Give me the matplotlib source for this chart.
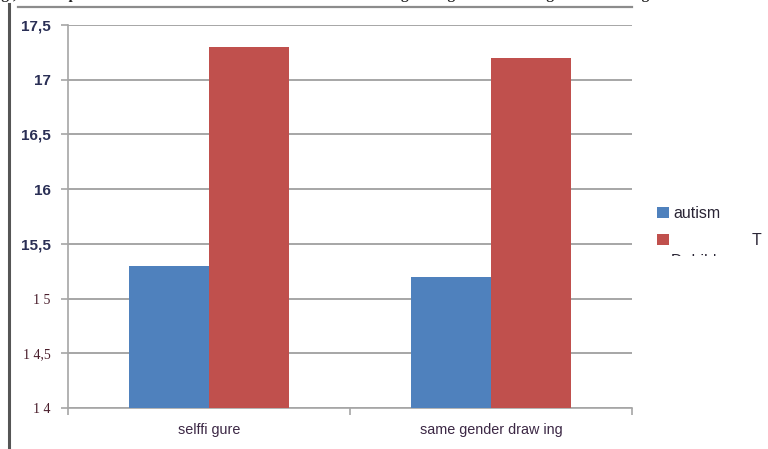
import matplotlib.pyplot as plt
import numpy as np
from matplotlib.transforms import Bbox

# scores per drawing task
categories = ['selffi gure', 'same gender draw ing']
autism = [15.3, 15.2]
td_children = [17.3, 17.2]

yticks = [14, 14.5, 15, 15.5, 16, 16.5, 17, 17.5]
ytick_labels = ['1 4', '1 4,5', '1 5', '15,5', '16', '16,5', '17', '17,5']

W, H = 768, 449
fig = plt.figure(figsize=(W / 100, H / 100), dpi=100)
ax = fig.add_axes([68 / W, 1 - 408 / H, (632 - 68) / W, (408 - 25) / H])

x = np.arange(len(categories))
width = 0.285
b1 = ax.bar(x - width / 2, autism, width, color='#4F81BD', zorder=3)
b2 = ax.bar(x + width / 2, td_children, width, color='#C0504D', zorder=3)

ax.set_xlim(-0.5, len(categories) - 0.5)
ax.set_ylim(14, 17.5)

# gridlines
ax.set_yticks(yticks)
ax.set_yticklabels(ytick_labels)
ax.grid(True, axis='y', color='#A6A6A6', linewidth=1.4, zorder=0)
ax.tick_params(axis='y', length=5, width=1.2, color='#A6A6A6', pad=7.5)

# category labels with boundary ticks
ax.set_xticks(x)
ax.set_xticklabels(categories, fontsize=10.4, color='#3C2845', family='Liberation Sans')
ax.tick_params(axis='x', which='major', length=0, pad=11)
ax.set_xticks(np.arange(len(categories) + 1) - 0.5, minor=True)
ax.tick_params(axis='x', which='minor', length=5, width=1.2, color='#A6A6A6')

for side in ['top', 'right']:
    ax.spines[side].set_visible(False)
for side in ['left', 'bottom']:
    ax.spines[side].set_color('#A6A6A6')
    ax.spines[side].set_linewidth(1.2)

# upper labels bold sans, lower ones plain serif
for lab, val in zip(ax.get_yticklabels(), yticks):
    if val >= 15.5:
        lab.set_family('Liberation Sans')
        lab.set_fontweight('bold')
        lab.set_fontsize(11)
        lab.set_color('#2A2F55')
    else:
        lab.set_family('Liberation Serif')
        lab.set_fontsize(10)
        lab.set_color('#4A1E2C')

# legend
leg = fig.legend([b1, b2], ['autism', ' '], loc='upper left',
                 bbox_to_anchor=(657 / W, 1 - 206 / H), frameon=False,
                 handlelength=0.75, handleheight=0.75,
                 handletextpad=0.25, labelspacing=0.75, borderpad=0,
                 borderaxespad=0, prop={'family': 'Liberation Sans', 'size': 11.5})
for t in leg.get_texts():
    t.set_color('#2A2535')

fig.text(752 / W, 1 - 240 / H, 'T', fontsize=11.5, family='Liberation Sans',
         color='#2A2535', va='center', ha='left')
clip = Bbox.from_extents(0, H - 256, W, H)
child = fig.text(671 / W, 1 - 262 / H, 'D  hild', fontsize=11.5, family='Liberation Sans',
                 color='#2A2535', va='center', ha='left')
child.set_clip_box(clip)
child.set_clip_on(True)

# caption line above the chart
cap = fig.text(-12 / W, 1 + 1 / H,
               'Fig., 4: Comparison between autism and TD children in drawing self figure and same gender drawings',
               fontsize=11, family='Liberation Serif', fontweight='bold',
               color='#222222', va='baseline', ha='left')
fig.add_artist(plt.Line2D([18 / W, 632 / W], [1 - 7 / H, 1 - 7 / H],
                          color='#8C8C8C', linewidth=1.6))
fig.add_artist(plt.Line2D([8.5 / W, 8.5 / W], [0, 1 - 4 / H],
                          color='#555555', linewidth=2.2))

fig.savefig('out.png', dpi=100)
